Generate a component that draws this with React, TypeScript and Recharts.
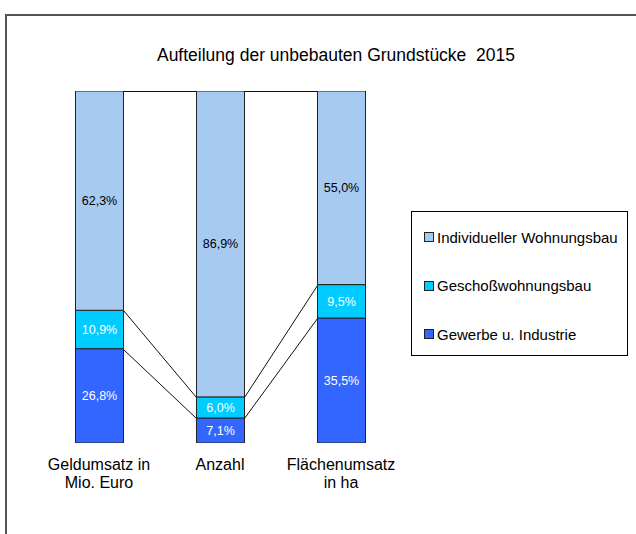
import React from "react";
import { BarChart, Bar, XAxis, YAxis, LabelList, Rectangle } from "recharts";

const categories = ["Geldumsatz in\nMio. Euro", "Anzahl", "Flächenumsatz\nin ha"];
const gewerbe = [26.8, 7.1, 35.5];
const geschoss = [10.9, 6.0, 9.5];
const individuell = [62.3, 86.9, 55.0];

const seriesKeys = ["gewerbe", "geschoss", "individuell"];
const seriesNames = ["Gewerbe u. Industrie", "Geschoßwohnungsbau", "Individueller Wohnungsbau"];
const seriesColors = ["#3366FF", "#00CCFF", "#A6CAF0"];
const labelColors = ["#ffffff", "#ffffff", "#000000"];
const seriesValues = [gewerbe, geschoss, individuell];

const data = categories.map((name, i) => ({
  name,
  gewerbe: gewerbe[i],
  geschoss: geschoss[i],
  individuell: individuell[i],
}));

const W = 636;
const H = 534;
const margin = { top: 91, right: 234.5, bottom: 31, left: 38.5 };
const band = (W - margin.left - margin.right) / categories.length;
const FONT = "'Liberation Sans', Arial, sans-serif";

const cumulative = (s: number, i: number) =>
  seriesValues.slice(0, s + 1).reduce((sum, arr) => sum + arr[i], 0);

// bar segment plus the Excel-style series line to the next bar
const makeShape = (s: number) => (props: any) => {
  const { x, y, width, height, index, fill } = props;
  const pxPerUnit = height / seriesValues[s][index];
  const hasNext = index + 1 < categories.length;
  const diff = hasNext ? cumulative(s, index) - cumulative(s, index + 1) : 0;
  const yNext = y + (Math.abs(diff) < 1e-9 ? 0 : diff) * pxPerUnit;
  const y1 = Math.round(y) + 0.5;
  const y2 = Math.round(yNext) + 0.5;
  return (
    <g>
      <Rectangle x={x} y={y} width={width} height={height} fill={fill} stroke="#222" strokeWidth={1} />
      {hasNext && (
        <path d={`M${x + width},${y1}L${x + band},${y2}`} stroke="#111" strokeWidth={1} fill="none" />
      )}
    </g>
  );
};

const fmt = (v: any) => Number(v).toFixed(1).replace(".", ",") + "%";

const CategoryTick = ({ x, y, payload }: any) => {
  const lines = String(payload.value).split("\n");
  return (
    <text x={x} y={y} textAnchor="middle" fontFamily={FONT} fontSize={16} fill="#000">
      {lines.map((l, k) => (
        <tspan key={k} x={x} dy={k === 0 ? 27 : 17.5}>
          {l}
        </tspan>
      ))}
    </text>
  );
};

export default function App() {
  return (
    <div style={{ position: "absolute", left: 0, top: 0, width: W, height: H, overflow: "hidden", background: "#fff" }}>
      <div
        style={{
          position: "absolute",
          left: 5,
          top: 14,
          width: W - 5,
          height: H - 14,
          borderTop: "2px solid #555",
          borderLeft: "2px solid #555",
          boxSizing: "border-box",
        }}
      />
      <svg width={W} height={80} style={{ position: "absolute", left: 0, top: 0 }}>
        <text x={336} y={61} textAnchor="middle" fontFamily={FONT} fontSize={17.5} fill="#000" style={{ whiteSpace: "pre" }}>
          Aufteilung der unbebauten Grundstücke{"\u00a0"} 2015
        </text>
      </svg>

      <div style={{ position: "absolute", left: 0, top: 0 }}>
        <BarChart width={W} height={H} data={data} margin={margin}>
          <XAxis
            dataKey="name"
            axisLine={false}
            tickLine={false}
            tickSize={0}
            tickMargin={0}
            height={60}
            interval={0}
            tick={<CategoryTick />}
          />
          <YAxis hide domain={[0, 100]} allowDataOverflow />
          {seriesKeys.map((key, s) => (
            <Bar
              key={key}
              dataKey={key}
              stackId="a"
              barSize={48}
              fill={seriesColors[s]}
              shape={makeShape(s)}
              isAnimationActive={false}
            >
              <LabelList
                dataKey={key}
                position="center"
                formatter={fmt}
                fill={labelColors[s]}
                fontFamily={FONT}
                fontSize={12.5}
              />
            </Bar>
          ))}
        </BarChart>
      </div>

      <div
        style={{
          position: "absolute",
          left: 411,
          top: 211,
          width: 217,
          height: 145,
          border: "1px solid #000",
          boxSizing: "border-box",
          fontFamily: FONT,
          fontSize: 15,
          background: "#fff",
        }}
      >
        {[2, 1, 0].map((s, k) => (
          <div
            key={s}
            style={{ position: "absolute", left: 12, top: 25 + k * 48.5 - 9, height: 18, display: "flex", alignItems: "center", whiteSpace: "nowrap" }}
          >
            <span
              style={{
                display: "inline-block",
                width: 8,
                height: 8,
                background: seriesColors[s],
                border: "1px solid #222",
                marginRight: 3,
              }}
            />
            <span>{seriesNames[s]}</span>
          </div>
        ))}
      </div>
    </div>
  );
}
